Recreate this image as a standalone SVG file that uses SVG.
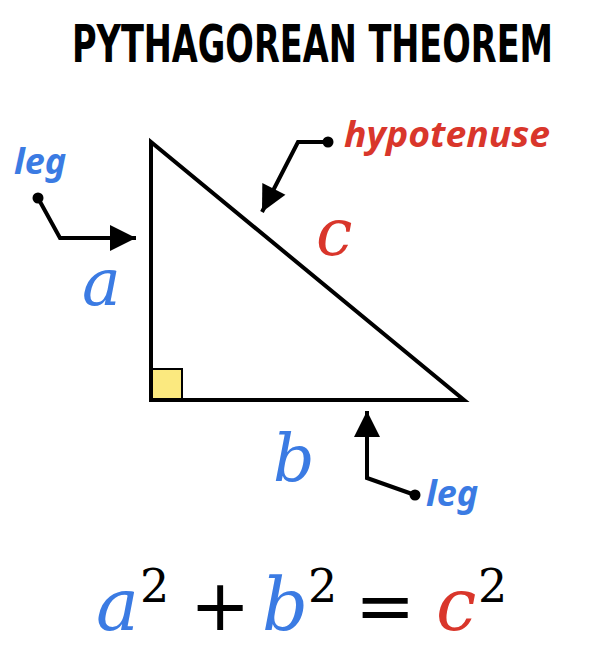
<svg xmlns="http://www.w3.org/2000/svg" width="611" height="652" viewBox="0 0 611 652">
<defs>
<style>
.title{font-family:"DejaVu Sans Condensed","DejaVu Sans",sans-serif;font-weight:bold;font-size:38px;fill:#000}
.lbl{font-family:"Noto Sans","DejaVu Sans",sans-serif;font-weight:bold;font-style:italic;font-size:36px}
.var{font-family:"DejaVu Serif","Liberation Serif",serif;font-style:italic;font-size:65px}
.eq{font-family:"DejaVu Serif","Liberation Serif",serif;font-size:72px}
.op{font-family:"DejaVu Sans",sans-serif;font-size:72px;fill:#000}
.sup{font-family:"DejaVu Serif","Liberation Serif",serif;font-size:46px;fill:#000}
.blue{fill:#3b7be3}
.red{fill:#d9362b}
.conn{fill:none;stroke:#000;stroke-width:4;stroke-linejoin:miter}
</style>
<marker id="ah" viewBox="0 0 10 10" refX="10" refY="5" markerWidth="7" markerHeight="6.5" markerUnits="strokeWidth" orient="auto">
<path d="M0,0 L10,5 L0,10 z" fill="#000"/>
</marker>
</defs>
<rect width="611" height="652" fill="#fff"/>
<g id="title"><text class="title" transform="scale(1,1.342)" x="72" y="46.2" textLength="481" lengthAdjust="spacingAndGlyphs">PYTHAGOREAN THEOREM</text></g>
<g id="triangle">
<rect x="151" y="369" width="31" height="31" fill="#fbe97f" stroke="#000" stroke-width="2"/>
<path d="M151,142 L151,400 L464,400 Z" fill="none" stroke="#000" stroke-width="4" stroke-linejoin="miter"/>
</g>
<g id="label-a"><text class="var blue" x="82" y="305">a</text></g>
<g id="label-b"><text class="var blue" x="273" y="481">b</text></g>
<g id="label-c"><text class="var red" x="316" y="255">c</text></g>
<g id="leg-left"><text class="lbl blue" x="14" y="174">leg</text></g>
<g id="hyp"><text class="lbl red" x="344" y="147" textLength="206" lengthAdjust="spacingAndGlyphs">hypotenuse</text></g>
<g id="leg-bottom"><text class="lbl blue" x="426" y="506">leg</text></g>
<g id="connectors">
<circle cx="38" cy="198" r="5.5"/>
<path class="conn" d="M38,198 L60,238 L136,238" marker-end="url(#ah)"/>
<circle cx="328" cy="142" r="5.5"/>
<path class="conn" d="M328,142 L298,142 L262,212" marker-end="url(#ah)"/>
<circle cx="415" cy="495" r="5.5"/>
<path class="conn" d="M415,495 L367,478 L367,411" marker-end="url(#ah)"/>
</g>
<g id="equation">
<text class="eq blue" x="96" y="630" style="font-style:italic">a</text>
<text class="sup" x="140" y="602">2</text>
<text class="op" x="190" y="630">+</text>
<text class="eq blue" x="262" y="630" style="font-style:italic">b</text>
<text class="sup" x="308" y="602">2</text>
<text class="op" x="355" y="630">=</text>
<text class="eq red" x="436" y="630" style="font-style:italic">c</text>
<text class="sup" x="478" y="602">2</text>
</g>
</svg>
